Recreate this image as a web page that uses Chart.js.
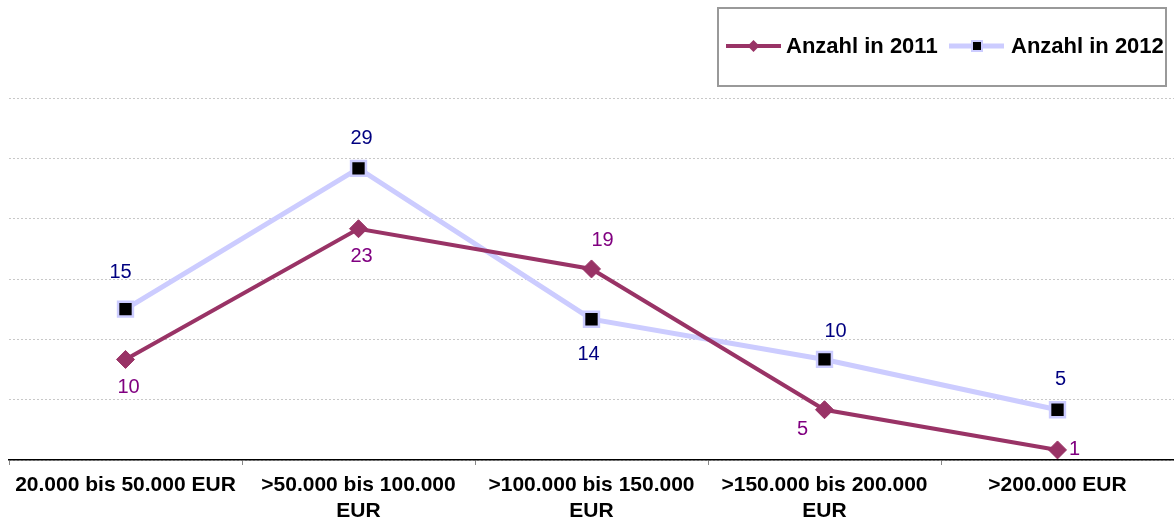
<!DOCTYPE html>
<html>
<head>
<meta charset="utf-8">
<script src="https://cdn.jsdelivr.net/npm/chart.js@4/dist/chart.umd.min.js"></script>
<style>
  html, body { margin: 0; padding: 0; background: #fff; }
  #wrap { width: 1174px; height: 520px; position: relative; }
</style>
</head>
<body>
<div id="wrap"><canvas id="c" width="1174" height="520"></canvas></div>
<script>
// ---- data ----
const categories = [
  '20.000 bis 50.000 EUR',
  ['>50.000 bis 100.000', 'EUR'],
  ['>100.000 bis 150.000', 'EUR'],
  ['>150.000 bis 200.000', 'EUR'],
  '>200.000 EUR'
];
const seriesNames = ['Anzahl in 2011', 'Anzahl in 2012'];
const values2011 = [10, 23, 19, 5, 1];
const values2012 = [15, 29, 14, 10, 5];
const yTicks = [0, 6, 12, 18, 24, 30, 36];

// label placement (style)
const labelPlace2011 = ['bottom', 'bottom', 'topRight', 'bottomLeft', 'right'];
const labelPlace2012 = ['topFar', 'top', 'bottomFar', 'topRight', 'top'];

const FONT = '"Liberation Sans", Arial, Helvetica, sans-serif';
const C2011 = '#993366';
const C2012 = '#CCCCFF';
const L2011 = '#800080';
const L2012 = '#000080';

const placeOffsets = {
  top: [3, -30],
  topFar: [-5, -37],
  bottom: [3, 28],
  bottomFar: [-3, 35],
  topRight: [11, -28],
  bottomLeft: [-22, 20],
  right: [17, 0]
};

const dataLabelPlugin = {
  id: 'dataLabels',
  afterDatasetsDraw(chart) {
    const ctx = chart.ctx;
    ctx.save();
    ctx.font = '20px ' + FONT;
    ctx.textAlign = 'center';
    ctx.textBaseline = 'middle';
    chart.data.datasets.forEach((ds, di) => {
      const meta = chart.getDatasetMeta(di);
      meta.data.forEach((pt, i) => {
        const off = placeOffsets[ds.labelPlace[i]];
        ctx.fillStyle = ds.labelColor;
        ctx.fillText(String(ds.data[i]), pt.x + off[0], pt.y + off[1]);
      });
    });
    ctx.restore();
  }
};

const legendPlugin = {
  id: 'boxLegend',
  afterDraw(chart) {
    const ctx = chart.ctx;
    ctx.save();
    ctx.strokeStyle = '#999999';
    ctx.lineWidth = 2;
    ctx.strokeRect(718, 8, 448, 78);
    const y = 46;
    ctx.font = 'bold 22px ' + FONT;
    ctx.textBaseline = 'middle';
    ctx.textAlign = 'left';
    // item 1
    ctx.strokeStyle = C2011; ctx.lineWidth = 4;
    ctx.beginPath(); ctx.moveTo(726, y); ctx.lineTo(781, y); ctx.stroke();
    ctx.fillStyle = C2011;
    ctx.beginPath();
    ctx.moveTo(753.5, y - 6); ctx.lineTo(759.5, y); ctx.lineTo(753.5, y + 6); ctx.lineTo(747.5, y); ctx.closePath();
    ctx.fill();
    ctx.fillStyle = '#000';
    ctx.fillText(seriesNames[0], 786, y + 1);
    // item 2
    ctx.strokeStyle = C2012; ctx.lineWidth = 5;
    ctx.beginPath(); ctx.moveTo(949, y); ctx.lineTo(1004, y); ctx.stroke();
    ctx.fillStyle = C2012;
    ctx.fillRect(971, y - 6, 12, 12);
    ctx.fillStyle = '#000';
    ctx.fillRect(973, y - 4, 8, 8);
    ctx.fillText(seriesNames[1], 1011, y + 1);
    ctx.restore();
  }
};

new Chart(document.getElementById('c'), {
  type: 'line',
  data: {
    labels: categories,
    datasets: [
      {
        label: seriesNames[0],
        data: values2011,
        borderColor: C2011,
        backgroundColor: C2011,
        borderWidth: 4,
        pointStyle: 'rectRot',
        pointRadius: 9,
        pointBackgroundColor: C2011,
        pointBorderColor: C2011,
        pointBorderWidth: 1,
        tension: 0,
        labelColor: L2011,
        labelPlace: labelPlace2011,
        order: 1
      },
      {
        label: seriesNames[1],
        data: values2012,
        borderColor: C2012,
        backgroundColor: '#000000',
        borderWidth: 5,
        pointStyle: 'rect',
        pointRadius: 10.5,
        pointBackgroundColor: '#000000',
        pointBorderColor: C2012,
        pointBorderWidth: 2.5,
        tension: 0,
        labelColor: L2012,
        labelPlace: labelPlace2012,
        order: 2
      }
    ]
  },
  options: {
    responsive: false,
    animation: false,
    events: [],
    layout: { autoPadding: false, padding: { left: 9, right: -2, top: 98, bottom: 0 } },
    plugins: {
      legend: { display: false },
      tooltip: { enabled: false },
      title: { display: false }
    },
    scales: {
      x: {
        type: 'category',
        offset: true,
        grid: {
          offset: true,
          drawOnChartArea: false,
          drawTicks: true,
          tickLength: 5,
          color: '#888888'
        },
        border: { display: true, color: '#000000', width: 1.5 },
        ticks: {
          color: '#000000',
          font: { family: FONT, size: 21, weight: 'bold', lineHeight: 1.2 },
          padding: 8,
          maxRotation: 0,
          autoSkip: false
        },
        afterFit(scale) {
          scale.height = 60;
          scale.paddingLeft = 0;
          scale.paddingRight = 0;
        }
      },
      y: {
        min: yTicks[0],
        max: yTicks[yTicks.length - 1],
        afterBuildTicks(scale) { scale.ticks = yTicks.map(v => ({ value: v })); },
        ticks: { display: false },
        border: { display: false, dash: [2, 2] },
        grid: {
          drawTicks: false,
          color: '#C8C8C8',
          lineWidth: 1
        },
        afterFit(scale) {
          scale.width = 0;
          scale.paddingTop = 0;
          scale.paddingBottom = 0;
        }
      }
    }
  },
  plugins: [dataLabelPlugin, legendPlugin]
});
</script>
</body>
</html>
